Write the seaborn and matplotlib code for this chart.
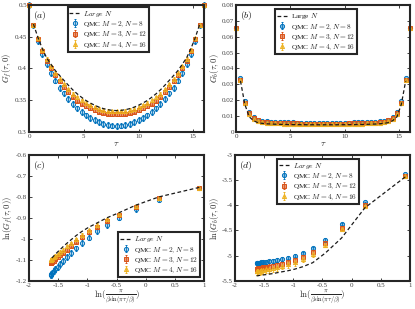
import numpy as np
import pandas as pd
import matplotlib
matplotlib.use("Agg")
import matplotlib.pyplot as plt
import seaborn as sns
from matplotlib.ticker import FuncFormatter

BETA = 16.0

tau = [0.0, 0.4, 0.8, 1.2, 1.6, 2.0, 2.4, 2.8, 3.2, 3.6, 4.0, 4.4, 4.8, 5.2,
       5.6, 6.0, 6.4, 6.8, 7.2, 7.6, 8.0, 8.4, 8.8, 9.2, 9.6, 10.0, 10.4,
       10.8, 11.2, 11.6, 12.0, 12.4, 12.8, 13.2, 13.6, 14.0, 14.4, 14.8,
       15.2, 15.6, 16.0]
tau_large = tau[1:-1]

# fermion Green's function G_f(tau, 0)
gf_m2 = [0.5, 0.4677, 0.4426, 0.4232, 0.4066, 0.3926, 0.3810, 0.3697, 0.3606,
         0.3517, 0.3440, 0.3370, 0.3312, 0.3260, 0.3220, 0.3185, 0.3155, 0.3130,
         0.3112, 0.3100, 0.3095, 0.3100, 0.3112, 0.3130, 0.3155, 0.3185, 0.3220,
         0.3260, 0.3312, 0.3370, 0.3440, 0.3517, 0.3606, 0.3697, 0.3810, 0.3926,
         0.4066, 0.4232, 0.4426, 0.4677, 0.5]
gf_m3 = [0.5, 0.4680, 0.4465, 0.4280, 0.4125, 0.4000, 0.3895, 0.3795, 0.3705,
         0.3625, 0.3555, 0.3495, 0.3445, 0.3405, 0.3370, 0.3340, 0.3318, 0.3300,
         0.3287, 0.3280, 0.3277, 0.3280, 0.3287, 0.3300, 0.3318, 0.3340, 0.3370,
         0.3405, 0.3445, 0.3495, 0.3555, 0.3625, 0.3705, 0.3795, 0.3895, 0.4000,
         0.4125, 0.4280, 0.4465, 0.4680, 0.5]
gf_m4 = [0.5, 0.4685, 0.4475, 0.4292, 0.4150, 0.4035, 0.3935, 0.3840, 0.3752,
         0.3675, 0.3605, 0.3548, 0.3497, 0.3457, 0.3422, 0.3392, 0.3368, 0.3350,
         0.3337, 0.3328, 0.3325, 0.3328, 0.3337, 0.3350, 0.3368, 0.3392, 0.3422,
         0.3457, 0.3497, 0.3548, 0.3605, 0.3675, 0.3752, 0.3840, 0.3935, 0.4035,
         0.4150, 0.4292, 0.4475, 0.4685, 0.5]
gf_large = [0.4700, 0.4493, 0.4317, 0.4169, 0.4066, 0.3966, 0.3887, 0.3810,
            0.3734, 0.3662, 0.3600, 0.3545, 0.3495, 0.3455, 0.3420, 0.3390,
            0.3367, 0.3350, 0.3340, 0.3336, 0.3340, 0.3350, 0.3367, 0.3390,
            0.3420, 0.3455, 0.3495, 0.3545, 0.3600, 0.3662, 0.3734, 0.3810,
            0.3887, 0.3966, 0.4066, 0.4169, 0.4317, 0.4493, 0.4700]

# boson Green's function G_b(tau, 0)
gb_m2 = [0.0655, 0.0340, 0.01945, 0.01265, 0.00928, 0.00783, 0.00708, 0.00674,
         0.00647, 0.00628, 0.00616, 0.00607, 0.00601, 0.00595, 0.00592, 0.00589,
         0.00586, 0.00583, 0.00582, 0.00581, 0.00580, 0.00581, 0.00582, 0.00583,
         0.00586, 0.00589, 0.00592, 0.00595, 0.00601, 0.00607, 0.00616, 0.00628,
         0.00647, 0.00674, 0.00708, 0.00783, 0.00928, 0.01265, 0.01945, 0.0340,
         0.0655]
gb_m3 = [0.0655, 0.0330, 0.01832, 0.01168, 0.00865, 0.00723, 0.00654, 0.00616,
         0.00592, 0.00574, 0.00560, 0.00552, 0.00543, 0.00538, 0.00533, 0.00530,
         0.00525, 0.00522, 0.00521, 0.00520, 0.00520, 0.00520, 0.00521, 0.00522,
         0.00525, 0.00530, 0.00533, 0.00538, 0.00543, 0.00552, 0.00560, 0.00574,
         0.00592, 0.00616, 0.00654, 0.00723, 0.00865, 0.01168, 0.01832, 0.0330,
         0.0655]
gb_m4 = [0.0655, 0.0327, 0.01796, 0.01133, 0.00839, 0.00694, 0.00628, 0.00592,
         0.00568, 0.00552, 0.00538, 0.00527, 0.00520, 0.00515, 0.00509, 0.00504,
         0.00502, 0.00499, 0.00497, 0.00495, 0.00494, 0.00495, 0.00497, 0.00499,
         0.00502, 0.00504, 0.00509, 0.00515, 0.00520, 0.00527, 0.00538, 0.00552,
         0.00568, 0.00592, 0.00628, 0.00694, 0.00839, 0.01133, 0.01796, 0.0327,
         0.0655]
gb_large = [0.0321, 0.01742, 0.00956, 0.00708, 0.00586, 0.00541, 0.00515,
            0.00499, 0.00489, 0.00480, 0.00472, 0.00467, 0.00463, 0.00460,
            0.00458, 0.00456, 0.00453, 0.00452, 0.00452, 0.00452, 0.00452,
            0.00452, 0.00453, 0.00456, 0.00458, 0.00460, 0.00463, 0.00467,
            0.00472, 0.00480, 0.00489, 0.00499, 0.00515, 0.00541, 0.00586,
            0.00708, 0.00956, 0.01742, 0.0321]

# error bars (per series)
err_f = {"m2": 0.0045, "m3": 0.0022, "m4": 0.0024}
err_b = {"m2": 0.00022, "m3": 0.00030, "m4": 0.00040}

BLUE = "#0072BD"
RED = "#D95319"
YELLOW = "#EDB120"
FRAME = "#262626"

labels_qmc = [r"QMC $M=2,N=8$", r"QMC $M=3,N=12$", r"QMC $M=4,N=16$"]


def style_axes(ax, xlim, ylim, xticks, yticks):
    ax.set_xlim(*xlim)
    ax.set_ylim(*ylim)
    ax.set_xticks(xticks)
    ax.set_yticks(yticks)
    ax.xaxis.set_major_formatter(FuncFormatter(lambda v, p: f"{v:g}"))
    ax.yaxis.set_major_formatter(FuncFormatter(lambda v, p: f"{v:g}"))
    ax.tick_params(direction="in", top=True, right=True, length=2.2,
                   width=0.7, labelsize=5.0, colors="#404040", pad=1.5)
    for s in ax.spines.values():
        s.set_linewidth(1.5)
        s.set_color(FRAME)
        s.set_zorder(5)


def qmc(ax, x, y, e, color, marker, label, mfa):
    c = ax.errorbar(x, y, yerr=e, fmt=marker, color=color, ms=3.0,
                    mfc=matplotlib.colors.to_rgba(color, mfa), mec=color,
                    mew=0.7, elinewidth=0.6, capsize=0.9, capthick=0.6,
                    label=label, zorder=3)
    for art in c.get_children():
        art.set_clip_on(False)
    return c


def large(ax, x, y, label):
    df = pd.DataFrame({"x": x, "y": y})
    sns.lineplot(data=df, x="x", y="y", ax=ax, color="#1a1a1a",
                 linestyle=(0, (3, 2)), linewidth=0.9, label=label,
                 zorder=4, sort=False, legend=False)
    ax.set_xlabel("")
    ax.set_ylabel("")


def legend(ax, **kw):
    h, l = ax.get_legend_handles_labels()
    lookup = dict(zip(l, h))
    first = [s for s in l if "Large" in s][0]
    order = [first] + labels_qmc
    leg = ax.legend([lookup[s] for s in order], order,
                    fontsize=5.3, frameon=True, fancybox=False,
                    edgecolor=FRAME, framealpha=1, borderpad=0.25,
                    labelspacing=0.1, handlelength=1.5, handletextpad=0.4,
                    borderaxespad=0, **kw)
    leg.get_frame().set_linewidth(1.5)
    leg.set_zorder(6)


sns.set_theme(style="ticks")
plt.rcParams["font.family"] = ["Liberation Serif", "DejaVu Serif"]
plt.rcParams["mathtext.fontset"] = "cm"
plt.rcParams["axes.unicode_minus"] = False

fig = plt.figure(figsize=(4.15, 3.09), dpi=100)
ax_a = fig.add_axes([0.070, 0.573, 0.422, 0.411])
ax_b = fig.add_axes([0.569, 0.573, 0.419, 0.411])
ax_c = fig.add_axes([0.070, 0.091, 0.422, 0.408])
ax_d = fig.add_axes([0.566, 0.091, 0.422, 0.408])

# (a)
qmc(ax_a, tau, gf_m2, err_f["m2"], BLUE, "o", labels_qmc[0], 0.25)
qmc(ax_a, tau, gf_m3, err_f["m3"], RED, "s", labels_qmc[1], 0.6)
qmc(ax_a, tau, gf_m4, err_f["m4"], YELLOW, "^", labels_qmc[2], 0.6)
large(ax_a, tau_large, gf_large, r"$Large\ N$")
style_axes(ax_a, (0, 16), (0.3, 0.5), [0, 5, 10, 15],
           [0.3, 0.35, 0.4, 0.45, 0.5])
ax_a.set_xlabel(r"$\tau$", fontsize=6.5, labelpad=1)
ax_a.set_ylabel(r"$G_f(\tau,0)$", fontsize=6.2, labelpad=0.5)
legend(ax_a, loc="upper left", bbox_to_anchor=(0.22, 0.985))

# (b)
qmc(ax_b, tau, gb_m2, err_b["m2"], BLUE, "o", labels_qmc[0], 0.45)
qmc(ax_b, tau, gb_m3, err_b["m3"], RED, "s", labels_qmc[1], 0.6)
qmc(ax_b, tau, gb_m4, err_b["m4"], YELLOW, "^", labels_qmc[2], 0.6)
large(ax_b, tau_large, gb_large, r"Large $N$")
style_axes(ax_b, (0, 16), (0, 0.08), [0, 5, 10, 15],
           [0, 0.01, 0.02, 0.03, 0.04, 0.05, 0.06, 0.07, 0.08])
ax_b.set_xlabel(r"$\tau$", fontsize=6.5, labelpad=1)
ax_b.set_ylabel(r"$G_b(\tau,0)$", fontsize=6.2, labelpad=0.5)
legend(ax_b, loc="upper left", bbox_to_anchor=(0.224, 0.965))

# (c) and (d): log-log form over the first half of tau
t_half = np.array(tau[1:21])
x_log = np.log(np.pi / (BETA * np.sin(np.pi * t_half / BETA)))
xlab = r"$\ln(\frac{\pi}{\beta\sin(\pi\tau/\beta)})$"

for g, key, col, mk, lab, mfa in [(gf_m2, "m2", BLUE, "o", labels_qmc[0], 0.25),
                                  (gf_m3, "m3", RED, "s", labels_qmc[1], 0.6),
                                  (gf_m4, "m4", YELLOW, "^", labels_qmc[2], 0.6)]:
    gg = np.array(g[1:21])
    qmc(ax_c, x_log, np.log(gg), err_f[key] / gg, col, mk, lab, mfa)
large(ax_c, x_log, np.log(np.array(gf_large[0:20])), r"$Large\ N$")
style_axes(ax_c, (-2, 1), (-1.2, -0.6), [-2, -1.5, -1, -0.5, 0, 0.5, 1],
           [-1.2, -1.1, -1, -0.9, -0.8, -0.7, -0.6])
ax_c.set_xlabel(xlab, fontsize=6.5, labelpad=1)
ax_c.set_ylabel(r"$\ln(G_f(\tau,0))$", fontsize=6.2, labelpad=0.5)
legend(ax_c, loc="lower right", bbox_to_anchor=(0.977, 0.03))

for g, key, col, mk, lab, mfa in [(gb_m2, "m2", BLUE, "o", labels_qmc[0], 0.45),
                                  (gb_m3, "m3", RED, "s", labels_qmc[1], 0.6),
                                  (gb_m4, "m4", YELLOW, "^", labels_qmc[2], 0.6)]:
    gg = np.array(g[1:21])
    qmc(ax_d, x_log, np.log(gg), err_b[key] / gg, col, mk, lab, mfa)
large(ax_d, x_log, np.log(np.array(gb_large[0:20])), r"$Large\ N$")
style_axes(ax_d, (-2, 1), (-5.5, -3), [-2, -1.5, -1, -0.5, 0, 0.5, 1],
           [-5.5, -5, -4.5, -4, -3.5, -3])
ax_d.set_xlabel(xlab, fontsize=6.5, labelpad=1)
ax_d.set_ylabel(r"$\ln(G_b(\tau,0))$", fontsize=6.2, labelpad=0.5)
legend(ax_d, loc="upper left", bbox_to_anchor=(0.24, 0.968))

for ax, tag in zip([ax_a, ax_b, ax_c, ax_d], ["a", "b", "c", "d"]):
    ax.text(0.025, 0.97, rf"$({tag})$", transform=ax.transAxes,
            ha="left", va="top", fontsize=7, color="#1a1a1a", zorder=7)

fig.savefig("out.png", dpi=100)
